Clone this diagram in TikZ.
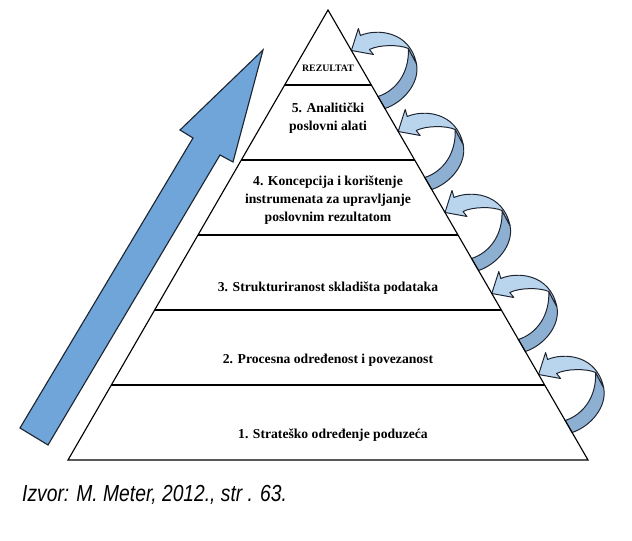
\documentclass[tikz,border=0pt]{standalone}
\usepackage{fontspec}
\setmainfont{Liberation Serif}
\setsansfont{Liberation Sans}
\usepackage{tikz}
\usetikzlibrary{calc}
\definecolor{mblue}{RGB}{111,165,217}
\definecolor{lblue}{RGB}{185,213,238}
\definecolor{dblue}{RGB}{141,176,210}
\definecolor{mline}{RGB}{30,36,48}

\tikzset{
  lvl/.style={font=\fontsize{9.7}{12.8}\selectfont\bfseries, align=center, inner sep=0},
  turnarrow/.pic={
    \draw [fill=dblue, draw=mline, line width=0.7pt] (65,-13) .. controls (69,-32) and (52,-52) .. (33.5,-58) -- (26.6,-46) .. controls (45,-40) and (58,-22) .. (57,2) -- cycle;
    \draw [fill=lblue, draw=mline, line width=0.7pt, line join=round] (0,0) -- (7,22) -- (9,15) .. controls (25,22) and (58,20) .. (65,-13) -- (57,2) .. controls (48,6) and (28,6) .. (18,1) -- (22,-4) -- cycle;
  }
}

\begin{document}
\begin{tikzpicture}[x=0.025cm, y=0.025cm]
    \useasboundingbox (0,0) rectangle (632,540);
    \coordinate (apex) at (328,530);
    \coordinate (bl) at (68,80);
    \coordinate (br) at (588,80);
    % big arrow
    \draw [fill=mblue, draw=mline, line width=0.8pt, line join=miter] (20,112) -- (193,402) -- (180,410) -- (263,490) -- (233,378) -- (220,385) -- (48,95) -- cycle;
    % pyramid
    \fill [white] (apex) -- (bl) -- (br) -- cycle;
    \foreach \t in {0.09,0.27,0.45,0.63,0.81}
      \pic at ($(apex)!\t!(br)$) {turnarrow};
    \draw [line width=0.8pt] (apex) -- (bl) -- (br) -- cycle;
    \foreach \k [evaluate=\k as \t using \k/6] in {1,...,5}
      \draw [line width=1.1pt] ($(apex)!\t!(bl)$) -- ($(apex)!\t!(br)$);
    % levels
    \node [lvl, font=\fontsize{7}{8}\selectfont\bfseries] (rez) at (328,472) {REZULTAT};
    \node [lvl] (lvl5) at (328,422) {5. Analitički\\poslovni alati};
    \node [lvl] (lvl4) at (328,340) {4. Koncepcija i korištenje\\instrumenata za upravljanje\\poslovnim rezultatom};
    \node [lvl] (lvl3) at (328,252) {3. Strukturiranost skladišta podataka};
    \node [lvl] (lvl2) at (328,180) {2. Procesna određenost i povezanost};
    \node [lvl] (lvl1) at (333,105) {1. Strateško određenje poduzeća};
    % source
    \node [anchor=base west, inner sep=0, xscale=0.83, font=\sffamily\itshape\fontsize{16.5}{18}\selectfont] (src) at (22,38) {Izvor: M. Meter, 2012., str . 63.};
\end{tikzpicture}
\end{document}
